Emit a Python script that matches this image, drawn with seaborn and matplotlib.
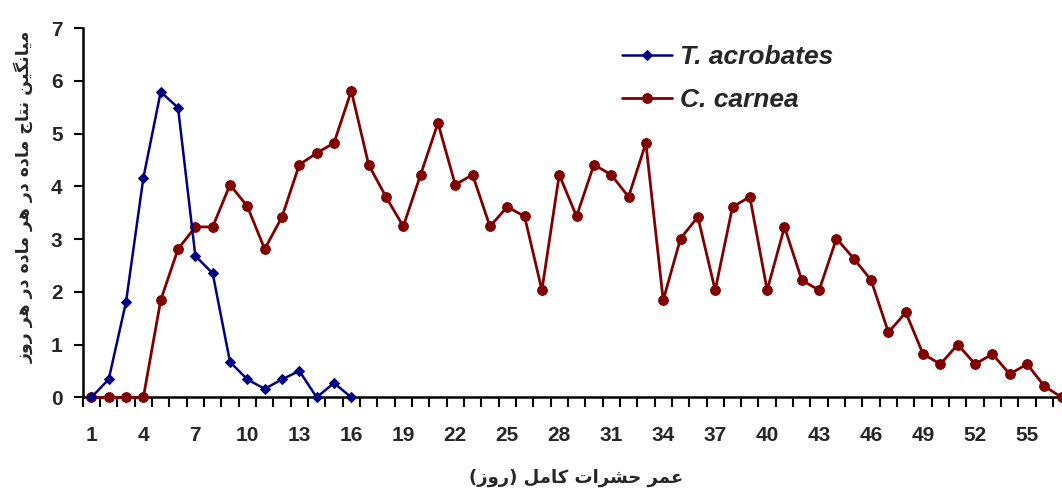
import numpy as np
import pandas as pd
import matplotlib
matplotlib.use("Agg")
import matplotlib.pyplot as plt
import seaborn as sns

# ---------------- data ----------------
days = list(range(1, 58))
t_acrobates_days = list(range(1, 17))
t_acrobates = [0.0, 0.34, 1.81, 4.16, 5.79, 5.49, 2.68, 2.35, 0.67, 0.34,
               0.16, 0.34, 0.50, 0.0, 0.27, 0.0]
c_carnea = [0.0, 0.0, 0.0, 0.0, 1.84, 2.81, 3.23, 3.23, 4.03, 3.62,
            2.81, 3.42, 4.41, 4.63, 4.82, 5.81, 4.41, 3.80, 3.24, 4.22,
            5.20, 4.03, 4.22, 3.24, 3.61, 3.43, 2.03, 4.22, 3.43, 4.41,
            4.22, 3.80, 4.82, 1.84, 3.01, 3.42, 2.03, 3.61, 3.80, 2.03,
            3.23, 2.22, 2.03, 3.01, 2.63, 2.22, 1.23, 1.61, 0.82, 0.63,
            1.00, 0.63, 0.82, 0.44, 0.63, 0.21, 0.0]
series_names = ["T. acrobates", "C. carnea"]
x_tick_labels = list(range(1, 56, 3))
y_ticks = list(range(0, 8))
x_label = "عمر حشرات کامل (روز)"
y_label = "میانگین نتاج ماده در هر ماده در هر روز"

# ------------- simple Persian shaping (matplotlib has no complex text layout) -------------
FORMS = {
    '\u0627': ('\uFE8D', '\uFE8E', None, None),
    '\u062A': ('\uFE95', '\uFE96', '\uFE97', '\uFE98'),
    '\u062C': ('\uFE9D', '\uFE9E', '\uFE9F', '\uFEA0'),
    '\u062D': ('\uFEA1', '\uFEA2', '\uFEA3', '\uFEA4'),
    '\u062F': ('\uFEA9', '\uFEAA', None, None),
    '\u0631': ('\uFEAD', '\uFEAE', None, None),
    '\u0632': ('\uFEAF', '\uFEB0', None, None),
    '\u0634': ('\uFEB5', '\uFEB6', '\uFEB7', '\uFEB8'),
    '\u0639': ('\uFEC9', '\uFECA', '\uFECB', '\uFECC'),
    '\u0644': ('\uFEDD', '\uFEDE', '\uFEDF', '\uFEE0'),
    '\u0645': ('\uFEE1', '\uFEE2', '\uFEE3', '\uFEE4'),
    '\u0646': ('\uFEE5', '\uFEE6', '\uFEE7', '\uFEE8'),
    '\u0647': ('\uFEE9', '\uFEEA', '\uFEEB', '\uFEEC'),
    '\u0648': ('\uFEED', '\uFEEE', None, None),
    '\u06A9': ('\uFB8E', '\uFB8F', '\uFB90', '\uFB91'),
    '\u06AF': ('\uFB92', '\uFB93', '\uFB94', '\uFB95'),
    '\u06CC': ('\uFBFC', '\uFBFD', '\uFBFE', '\uFBFF'),
}
MIRROR = {'(': ')', ')': '('}


def shape_rtl(text):
    out = []
    n = len(text)
    for i, c in enumerate(text):
        if c not in FORMS:
            out.append(MIRROR.get(c, c))
            continue
        prev = text[i - 1] if i > 0 else None
        nxt = text[i + 1] if i + 1 < n else None
        jp = prev in FORMS and FORMS[prev][2] is not None
        jn = FORMS[c][2] is not None and nxt in FORMS
        iso, fin, ini, med = FORMS[c]
        if jp and jn:
            out.append(med)
        elif jp:
            out.append(fin)
        elif jn:
            out.append(ini)
        else:
            out.append(iso)
    return "".join(reversed(out))


# ---------------- plot ----------------
sns.set_theme(style="white")
plt.rcParams['font.family'] = ['Liberation Sans', 'DejaVu Sans']

df_t = pd.DataFrame({"day": t_acrobates_days, "value": t_acrobates})
df_c = pd.DataFrame({"day": days, "value": c_carnea})

fig = plt.figure(figsize=(10.62, 4.93), dpi=100)
ax = fig.add_axes([0.0779, 0.1941, 0.930, 0.749])

sns.lineplot(data=df_t, x="day", y="value", ax=ax, color="#000080",
             marker="D", markersize=5.5, markeredgecolor="#000080",
             linewidth=1.8, label=series_names[0], clip_on=False, zorder=4)
sns.lineplot(data=df_c, x="day", y="value", ax=ax, color="#800000",
             marker="o", markersize=7, markeredgecolor="#800000",
             linewidth=2.0, label=series_names[1], clip_on=False, zorder=3)

ax.set_xlim(0.5, 57.5)
ax.set_ylim(0, 7)

ax.set_xticks(x_tick_labels)
ax.set_xticklabels([str(v) for v in x_tick_labels])
ax.set_xticks(np.arange(0.5, 58, 1.0), minor=True)
ax.tick_params(axis="x", which="major", length=0, pad=21, labelsize=15)
ax.tick_params(axis="x", which="minor", length=7, width=1.5, direction="out",
               color="black", bottom=True)
ax.set_yticks(y_ticks)
ax.tick_params(axis="y", which="major", length=6.5, width=1.5, direction="out",
               color="black", left=True, pad=8, labelsize=15)
for lab in ax.get_xticklabels() + ax.get_yticklabels():
    lab.set_fontweight("bold")

for s in ["top", "right"]:
    ax.spines[s].set_visible(False)
for s in ["left", "bottom"]:
    ax.spines[s].set_color("black")
    ax.spines[s].set_linewidth(1.8)
ax.grid(False)

ax.set_xlabel(shape_rtl(x_label), fontsize=13, fontweight="bold",
              family=['DejaVu Sans'])
ax.set_ylabel(shape_rtl(y_label), fontsize=12.5, fontweight="bold",
              family=['DejaVu Sans'])
ax.xaxis.set_label_coords(0.4994, -0.2185)
ax.xaxis.label.set_va("center")
ax.yaxis.set_label_coords(-0.0594, 0.542)
ax.yaxis.label.set_va("center")

leg = ax.legend(loc="upper left", bbox_to_anchor=(0.546, 0.954), frameon=False,
                handlelength=1.9, handletextpad=0.3, labelspacing=0.72,
                borderpad=0, borderaxespad=0,
                prop={"family": "Liberation Sans", "weight": "bold",
                      "style": "italic", "size": 19})

fig.savefig("out.png", dpi=100)
